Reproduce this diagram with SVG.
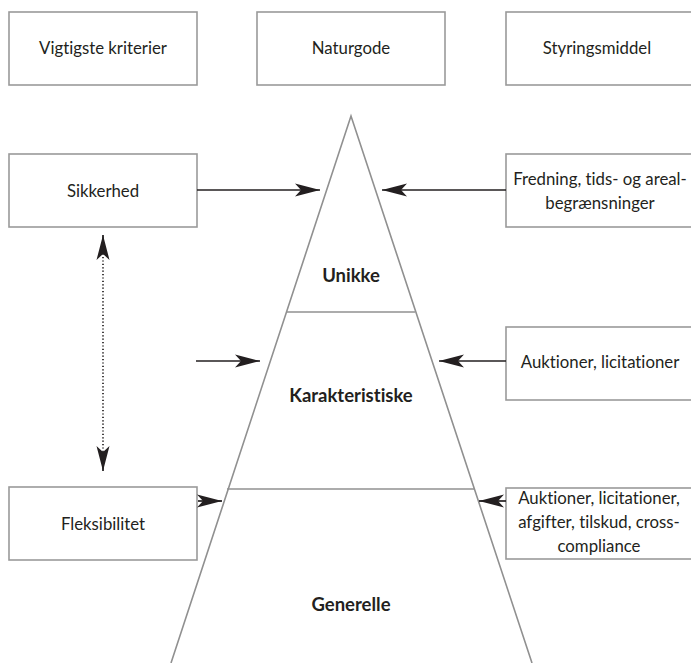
<svg xmlns="http://www.w3.org/2000/svg" width="691" height="663" viewBox="0 0 691 663">
<style>
.box{fill:#fff;stroke:#9a9a9a;stroke-width:1.6}
.t{font-family:Lato,"Liberation Sans",sans-serif;font-size:16.8px;fill:#231f20;text-anchor:middle;font-variant-ligatures:none}
.b{font-family:Lato,"Liberation Sans",sans-serif;font-size:18.5px;font-weight:bold;fill:#231f20;text-anchor:middle;font-variant-ligatures:none}
.pyr{fill:none;stroke:#909090;stroke-width:1.6}
.arr{fill:none;stroke:#231f20;stroke-width:1.7}
.dot{fill:none;stroke:#231f20;stroke-width:1.7;stroke-dasharray:1.2 2.2}
</style>
<defs>
<marker id="ah" markerUnits="userSpaceOnUse" markerWidth="26" markerHeight="14" refX="25" refY="7" orient="auto-start-reverse" viewBox="0 0 26 14">
<path d="M25,7 L0,0.5 L6,7 L0,13.5 Z" fill="#231f20"/>
</marker>
</defs>
<rect width="691" height="663" fill="#fff"/>
<g id="pyramid">
<path class="pyr" d="M171,663 L351,116 L532,663"/>
<line class="pyr" x1="287" y1="312" x2="415" y2="312"/>
<line class="pyr" x1="227" y1="489" x2="474" y2="489"/>
<text class="b" x="351" y="282">Unikke</text>
<text class="b" x="351" y="402">Karakteristiske</text>
<text class="b" x="351" y="611">Generelle</text>
</g>
<g id="h1"><rect class="box" x="9" y="12" width="188" height="73"/><text class="t" x="103" y="54">Vigtigste kriterier</text></g>
<g id="h2"><rect class="box" x="257" y="12" width="188" height="73"/><text class="t" x="351" y="54">Naturgode</text></g>
<g id="h3"><rect class="box" x="506" y="12" width="200" height="73"/><text class="t" x="597" y="54">Styringsmiddel</text></g>
<g id="sikkerhed"><rect class="box" x="9" y="154" width="188" height="73"/><text class="t" x="103" y="197">Sikkerhed</text></g>
<g id="fleksibilitet"><rect class="box" x="9" y="487" width="188" height="73"/><text class="t" x="103" y="530">Fleksibilitet</text></g>
<g id="fredning"><rect class="box" x="506" y="154" width="200" height="73"/><text class="t" x="600" y="185">Fredning, tids- og areal-</text><text class="t" x="600" y="209">begrænsninger</text></g>
<g id="auktioner1"><rect class="box" x="506" y="327" width="200" height="73"/><text class="t" x="600" y="368">Auktioner, licitationer</text></g>
<g id="auktioner2"><rect class="box" x="506" y="488" width="200" height="71"/><text class="t" x="599" y="504">Auktioner, licitationer,</text><text class="t" x="599" y="528">afgifter, tilskud, cross-</text><text class="t" x="599" y="552">compliance</text></g>
<g id="connectors">
<line class="arr" x1="197" y1="190" x2="320" y2="190" marker-end="url(#ah)"/>
<line class="arr" x1="506" y1="190" x2="382" y2="190" marker-end="url(#ah)"/>
<line class="arr" x1="196" y1="361" x2="260" y2="361" marker-end="url(#ah)"/>
<line class="arr" x1="506" y1="361" x2="439" y2="361" marker-end="url(#ah)"/>
<line class="arr" x1="198" y1="501" x2="222" y2="501" marker-end="url(#ah)"/>
<line class="arr" x1="506" y1="501" x2="479" y2="501" marker-end="url(#ah)"/>
<line class="dot" x1="103" y1="240" x2="103" y2="466"/>
<line class="arr" x1="103" y1="252" x2="103" y2="235" marker-end="url(#ah)"/>
<line class="arr" x1="103" y1="454" x2="103" y2="471" marker-end="url(#ah)"/>
</g>
</svg>
